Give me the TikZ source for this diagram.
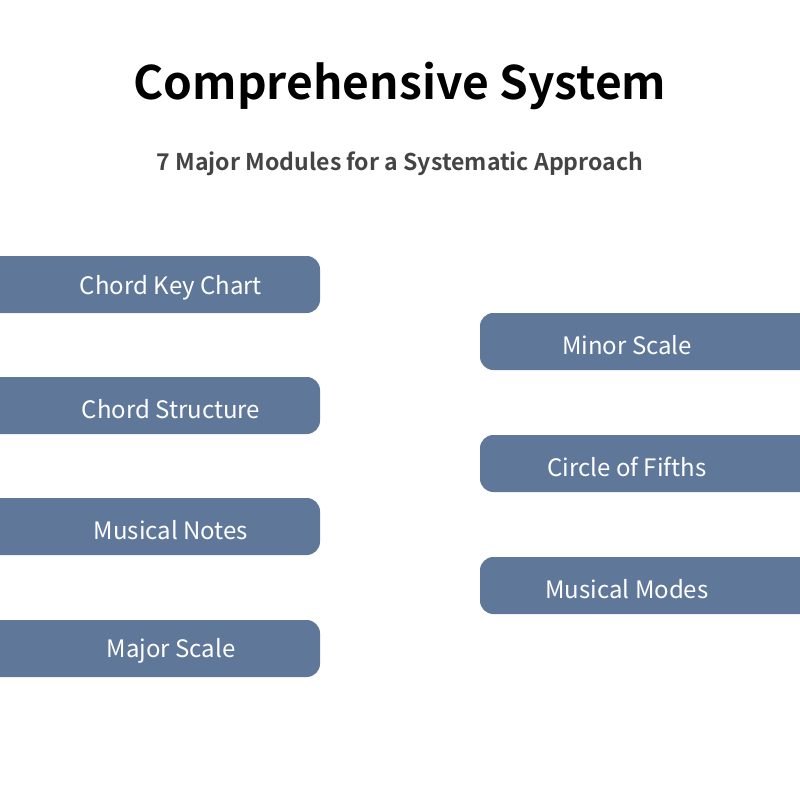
\documentclass[tikz,border=0pt]{standalone}
\usepackage{fontspec}
\setmainfont{Noto Sans CJK SC}[BoldFont={Noto Sans CJK SC Bold}]
\usetikzlibrary{positioning}
\definecolor{modblue}{HTML}{5F7899}
\definecolor{subgray}{HTML}{444444}
\tikzstyle{modbox} = [fill=modblue,draw=none,rounded corners=10]
\tikzstyle{modtext} = [text=white,font=\fontsize{18}{18}\selectfont,anchor=center]

\begin{document}
\begin{tikzpicture}[x=0.75pt,y=-0.75pt]
\useasboundingbox (0,0) rectangle (800,800);
\clip (0,0) rectangle (800,800);

% Titles
\node[font=\bfseries\fontsize{34.6}{35}\selectfont]              (title) at (400,86)  {Comprehensive System};
\node[font=\bfseries\fontsize{17.3}{18}\selectfont,text=subgray] (sub)   at (400,164) {7 Major Modules for a Systematic Approach};

% Boxes
\path[modbox] (-30,256) rectangle (320,313);
\path[modbox] (-30,377) rectangle (320,434);
\path[modbox] (-30,498) rectangle (320,555);
\path[modbox] (-30,620) rectangle (320,677);
\path[modbox] (480,313) rectangle (830,370);
\path[modbox] (480,435) rectangle (830,492);
\path[modbox] (480,557) rectangle (830,614);

% Define nodes
\node[modtext] (chart)  at (171,288) {Chord Key Chart};
\node[modtext] (struct) at (171,409) {Chord Structure};
\node[modtext] (notes)  at (171,530) {Musical Notes};
\node[modtext] (major)  at (171,651) {Major Scale};
\node[modtext] (minor)  at (627,345) {Minor Scale};
\node[modtext] (fifths) at (627,467) {Circle of Fifths};
\node[modtext] (modes)  at (627,589) {Musical Modes};
\end{tikzpicture}
\end{document}
